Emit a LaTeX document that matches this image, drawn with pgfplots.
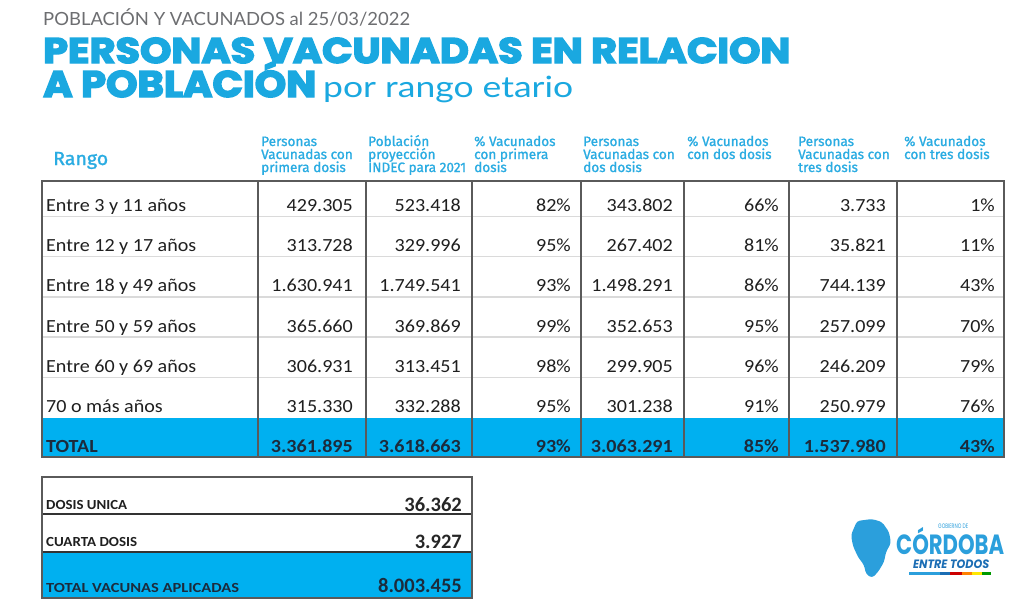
\documentclass[border=0pt]{standalone}
\usepackage{pgfplots}
\pgfplotsset{compat=1.18}
\usepackage{pgfplotstable}
\usepackage{graphicx}
\usepackage{fontspec}
\setmainfont{Carlito}
\newfontfamily\cellfont{Carlito}[FakeStretch=1.085]
\newfontfamily\titlefont{Poppins}[BoldFeatures={FakeBold=4}]
\newfontfamily\logofont{Poppins}
\newfontfamily\latofont{Lato}
\newfontfamily\hdrfont{Fira Sans}[FakeBold=1.2]
\definecolor{titlecyan}{HTML}{1AA8E0}
\definecolor{hdrcyan}{HTML}{2AACE2}
\definecolor{rowcyan}{HTML}{00B0F0}
\definecolor{subgray}{HTML}{6D6E71}
\definecolor{totaltext}{HTML}{1C2B3C}
\definecolor{gridgray}{HTML}{DADADA}
\definecolor{linegray}{HTML}{5A5A5A}
\definecolor{logoblue}{HTML}{2B9FDC}
\definecolor{logodark}{HTML}{1B6DB4}
\newlength\Lh
% #1 width, #2 cap height, #3 font, #4 text
\newcommand\fitbox[4]{\settoheight\Lh{#3H}\resizebox{#1pt}{#2pt}{\raisebox{0pt}[\Lh][0pt]{#3#4}}}
\newcommand\hfs{\hdrfont\fontsize{13.6}{13.6}\selectfont}

\pgfplotstableread[col sep=comma]{
rango,pv1,pob,pct1,pv2,pct2,pv3,pct3
Entre 3 y 11 años,429.305,523.418,82,343.802,66,3.733,1
Entre 12 y 17 años,313.728,329.996,95,267.402,81,35.821,11
Entre 18 y 49 años,1.630.941,1.749.541,93,1.498.291,86,744.139,43
Entre 50 y 59 años,365.660,369.869,99,352.653,95,257.099,70
Entre 60 y 69 años,306.931,313.451,98,299.905,96,246.209,79
70 o más años,315.330,332.288,95,301.238,91,250.979,76
}\rows

\pgfplotstableread[col sep=comma]{
rango,pv1,pob,pct1,pv2,pct2,pv3,pct3
TOTAL,3.361.895,3.618.663,93,3.063.291,85,1.537.980,43
}\totalrow

\pgfplotsset{
  cell/.style={draw=none, point meta=explicit symbolic, nodes near coords,
    every node near coord/.append style={inner sep=0pt, anchor=base east,
      font=\cellfont\fontsize{18.5}{20}\selectfont, text=black!88}},
  cellL/.style={cell, every node near coord/.append style={anchor=base west}},
  tcell/.style={cell, every node near coord/.append style={font=\cellfont\bfseries\fontsize{18.5}{20}\selectfont, text=totaltext}},
  pct/.style={nodes near coords={\pgfplotspointmeta\%}},
  blab/.style={cellL, nodes near coords={\fitbox{#1}{9}{\bfseries}{\pgfplotspointmeta}}},
}

\begin{document}
\begin{tikzpicture}
\begin{axis}[scale only axis, width=1023pt, height=605pt,
  xmin=0, xmax=1023, ymin=0, ymax=605, y dir=reverse,
  hide axis, clip=false]
\fill[white] (axis cs:0,0) rectangle (axis cs:1023,605);

% ---- titles
\node[anchor=base west, inner sep=0pt, text=subgray] at (axis cs:43,26)
  {\fitbox{367}{13}{\latofont}{POBLACIÓN Y VACUNADOS al 25/03/2022}};
\node[anchor=base west, inner sep=0pt, text=titlecyan] at (axis cs:43,63)
  {\fitbox{747}{25}{\titlefont\bfseries}{PERSONAS VACUNADAS EN RELACION}};
\node[anchor=base west, inner sep=0pt, text=titlecyan] at (axis cs:43,97)
  {\fitbox{273}{26}{\titlefont\bfseries}{A POBLACIÓN}};
\node[anchor=base west, inner sep=0pt, text=titlecyan] at (axis cs:323,97)
  {\fitbox{250}{21}{\latofont}{por rango etario}};

% ---- headers
\node[anchor=base west, inner sep=0pt, text=hdrcyan] at (axis cs:53,165)
  {\fitbox{55}{13}{\hdrfont}{Rango}};
\node[anchor=base west, inner sep=0pt, text=hdrcyan, font=\hfs] at (axis cs:261,146) {Personas};
\node[anchor=base west, inner sep=0pt, text=hdrcyan, font=\hfs] at (axis cs:261,159) {Vacunadas con};
\node[anchor=base west, inner sep=0pt, text=hdrcyan, font=\hfs] at (axis cs:261,172) {primera dosis};
\node[anchor=base west, inner sep=0pt, text=hdrcyan, font=\hfs] at (axis cs:368,146) {Población};
\node[anchor=base west, inner sep=0pt, text=hdrcyan, font=\hfs] at (axis cs:368,159) {proyección};
\node[anchor=base west, inner sep=0pt, text=hdrcyan, font=\hfs] at (axis cs:368,172) {INDEC para 2021};
\node[anchor=base west, inner sep=0pt, text=hdrcyan, font=\hfs] at (axis cs:474,146) {\% Vacunados};
\node[anchor=base west, inner sep=0pt, text=hdrcyan, font=\hfs] at (axis cs:474,159) {con primera};
\node[anchor=base west, inner sep=0pt, text=hdrcyan, font=\hfs] at (axis cs:474,172) {dosis};
\node[anchor=base west, inner sep=0pt, text=hdrcyan, font=\hfs] at (axis cs:583,146) {Personas};
\node[anchor=base west, inner sep=0pt, text=hdrcyan, font=\hfs] at (axis cs:583,159) {Vacunadas con};
\node[anchor=base west, inner sep=0pt, text=hdrcyan, font=\hfs] at (axis cs:583,172) {dos dosis};
\node[anchor=base west, inner sep=0pt, text=hdrcyan, font=\hfs] at (axis cs:687,146) {\% Vacunados};
\node[anchor=base west, inner sep=0pt, text=hdrcyan, font=\hfs] at (axis cs:687,159) {con dos dosis};
\node[anchor=base west, inner sep=0pt, text=hdrcyan, font=\hfs] at (axis cs:798,146) {Personas};
\node[anchor=base west, inner sep=0pt, text=hdrcyan, font=\hfs] at (axis cs:798,159) {Vacunadas con};
\node[anchor=base west, inner sep=0pt, text=hdrcyan, font=\hfs] at (axis cs:798,172) {tres dosis};
\node[anchor=base west, inner sep=0pt, text=hdrcyan, font=\hfs] at (axis cs:904,146) {\% Vacunados};
\node[anchor=base west, inner sep=0pt, text=hdrcyan, font=\hfs] at (axis cs:904,159) {con tres dosis};

% ---- main table frame
\fill[rowcyan] (axis cs:42,418) rectangle (axis cs:1004,457);
\draw[gridgray, line width=1.3pt] (axis cs:42,216.5) -- (axis cs:1004,216.5);
\draw[gridgray, line width=1.3pt] (axis cs:42,256.7) -- (axis cs:1004,256.7);
\draw[gridgray, line width=1.3pt] (axis cs:42,296.9) -- (axis cs:1004,296.9);
\draw[gridgray, line width=1.3pt] (axis cs:42,337.1) -- (axis cs:1004,337.1);
\draw[gridgray, line width=1.3pt] (axis cs:42,377.3) -- (axis cs:1004,377.3);
\draw[linegray, line width=1.1pt] (axis cs:258,181) -- (axis cs:258,457);
\draw[linegray, line width=1.1pt] (axis cs:366,181) -- (axis cs:366,457);
\draw[linegray, line width=1.1pt] (axis cs:472,181) -- (axis cs:472,457);
\draw[linegray, line width=1.1pt] (axis cs:581,181) -- (axis cs:581,457);
\draw[linegray, line width=1.1pt] (axis cs:684,181) -- (axis cs:684,457);
\draw[linegray, line width=1.1pt] (axis cs:789,181) -- (axis cs:789,457);
\draw[linegray, line width=1.1pt] (axis cs:897,181) -- (axis cs:897,457);
\draw[linegray, line width=1.2pt] (axis cs:42,181) rectangle (axis cs:1004,457);

% ---- main table data
\addplot[cellL] table[x expr=46, y expr=211.5+40.2*\coordindex, meta=rango] \rows;
\addplot[cell] table[x expr=353, y expr=211.5+40.2*\coordindex, meta=pv1] \rows;
\addplot[cell] table[x expr=461, y expr=211.5+40.2*\coordindex, meta=pob] \rows;
\addplot[cell, pct] table[x expr=571, y expr=211.5+40.2*\coordindex, meta=pct1] \rows;
\addplot[cell] table[x expr=673, y expr=211.5+40.2*\coordindex, meta=pv2] \rows;
\addplot[cell, pct] table[x expr=779, y expr=211.5+40.2*\coordindex, meta=pct2] \rows;
\addplot[cell] table[x expr=886, y expr=211.5+40.2*\coordindex, meta=pv3] \rows;
\addplot[cell, pct] table[x expr=995, y expr=211.5+40.2*\coordindex, meta=pct3] \rows;

\addplot[tcell, every node near coord/.append style={anchor=base west}] table[x expr=46, y expr=452, meta=rango] \totalrow;
\addplot[tcell] table[x expr=353, y expr=452, meta=pv1] \totalrow;
\addplot[tcell] table[x expr=461, y expr=452, meta=pob] \totalrow;
\addplot[tcell, pct] table[x expr=571, y expr=452, meta=pct1] \totalrow;
\addplot[tcell] table[x expr=673, y expr=452, meta=pv2] \totalrow;
\addplot[tcell, pct] table[x expr=779, y expr=452, meta=pct2] \totalrow;
\addplot[tcell] table[x expr=886, y expr=452, meta=pv3] \totalrow;
\addplot[tcell, pct] table[x expr=995, y expr=452, meta=pct3] \totalrow;

% ---- bottom table
\fill[rowcyan] (axis cs:42,552) rectangle (axis cs:472,598);
\draw[black!80, line width=1.1pt] (axis cs:42,514) -- (axis cs:472,514);
\draw[black!80, line width=1.1pt] (axis cs:42,552) -- (axis cs:472,552);
\draw[linegray, line width=1.2pt] (axis cs:42,477) rectangle (axis cs:472,598);

\addplot[blab=81] coordinates {(46,509) [DOSIS UNICA]};
\addplot[blab=91] coordinates {(46,546) [CUARTA DOSIS]};
\addplot[blab=193, every node near coord/.append style={text=totaltext}]
  coordinates {(46,592) [TOTAL VACUNAS APLICADAS]};
\addplot[cell, every node near coord/.append style={font=\bfseries\fontsize{20.5}{24}\selectfont, text=black!85}]
  coordinates {(462,511) [36.362] (462,548) [3.927]};
\addplot[cell, every node near coord/.append style={font=\bfseries\fontsize{20.5}{24}\selectfont, text=totaltext}]
  coordinates {(462,592) [8.003.455]};

% ---- logo
\fill[logoblue, rounded corners=3pt] (axis cs:857,521) -- (axis cs:872,519) -- (axis cs:882,522)
  -- (axis cs:889,532) -- (axis cs:891,543) -- (axis cs:886,552) -- (axis cs:884,562)
  -- (axis cs:878,572) -- (axis cs:872,578) -- (axis cs:866,574) -- (axis cs:864,565)
  -- (axis cs:858,557) -- (axis cs:853,546) -- (axis cs:851,535) -- cycle;
\node[anchor=base west, inner sep=0pt, text=logoblue] at (axis cs:938,528)
  {\fitbox{30}{4.5}{\logofont}{GOBIERNO DE}};
\node[anchor=base west, inner sep=0pt, text=logoblue] at (axis cs:896,554)
  {\fitbox{108}{19.5}{\logofont\bfseries}{CÓRDOBA}};
\node[anchor=base west, inner sep=0pt, text=logodark] at (axis cs:913,568)
  {\fitbox{76}{8.5}{\logofont\bfseries\itshape}{ENTRE TODOS}};
\fill[logoblue] (axis cs:909,572) rectangle (axis cs:940,574.5);
\fill[logodark] (axis cs:940,572) rectangle (axis cs:950,574.5);
\fill[red!80!black] (axis cs:950,572) rectangle (axis cs:962,574.5);
\fill[orange] (axis cs:962,572) rectangle (axis cs:972,574.5);
\fill[yellow!90!orange] (axis cs:972,572) rectangle (axis cs:982,574.5);
\fill[green!60!black] (axis cs:982,572) rectangle (axis cs:991,574.5);
\end{axis}
\end{tikzpicture}
\end{document}
